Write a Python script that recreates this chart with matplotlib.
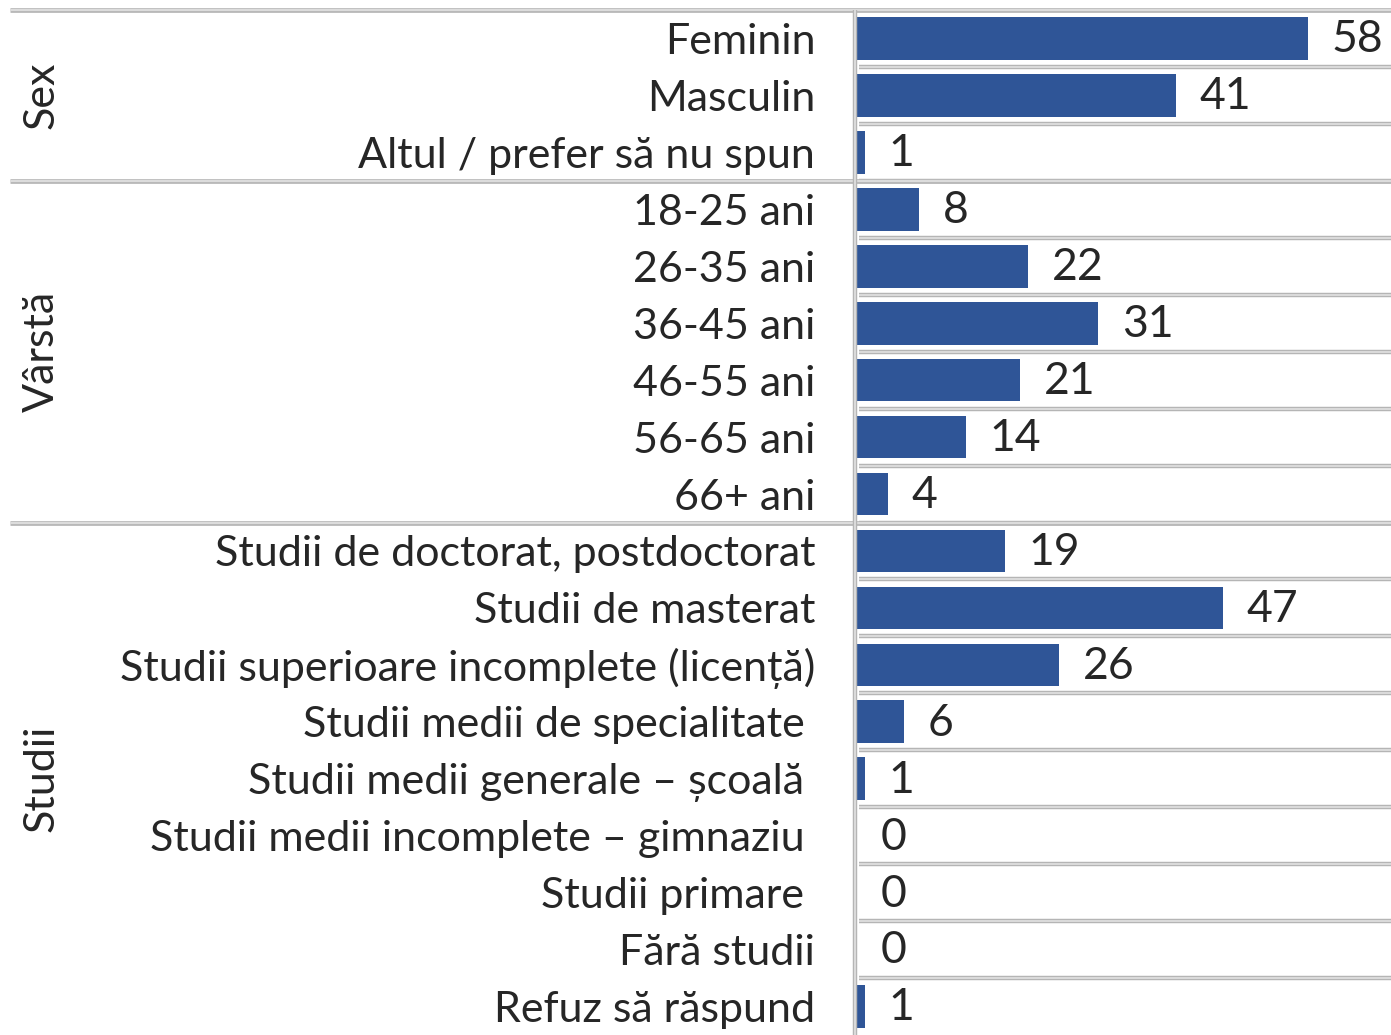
import matplotlib.pyplot as plt

plt.rcParams['font.family'] = ['Lato', 'DejaVu Sans']

# groups and categories
groups = ['Sex', 'Vârstă', 'Studii']
sex_labels = ['Feminin', 'Masculin', 'Altul / prefer să nu spun']
sex_values = [58, 41, 1]
age_labels = ['18-25 ani', '26-35 ani', '36-45 ani', '46-55 ani', '56-65 ani', '66+ ani']
age_values = [8, 22, 31, 21, 14, 4]
edu_labels = ['Studii de doctorat, postdoctorat', 'Studii de masterat',
              'Studii superioare incomplete (licență)', 'Studii medii de specialitate ',
              'Studii medii generale – școală ', 'Studii medii incomplete – gimnaziu ',
              'Studii primare ', 'Fără studii', 'Refuz să răspund']
edu_values = [19, 47, 26, 6, 1, 0, 0, 0, 1]

labels = sex_labels + age_labels + edu_labels
values = sex_values + age_values + edu_values
group_sizes = [len(sex_labels), len(age_labels), len(edu_labels)]

W, H = 1391, 1035
fig = plt.figure(figsize=(W / 100, H / 100), dpi=100)
ax = fig.add_axes([857 / W, 0, 1 - 857 / W, (H - 10) / H])

n = len(labels)
ypos = list(range(n))
ax.barh(ypos, values, height=0.75, color='#2f5597', linewidth=0)
ax.set_xlim(0, 534 / 7.78)
ax.set_ylim(n - 0.5, -0.5)

for y, v in zip(ypos, values):
    ax.annotate(str(v), (v, y), xytext=(17, -1), textcoords='offset points',
                va='center', ha='left', fontsize=32, color='#262626')

ax.set_yticks(ypos)
ax.set_yticklabels(labels, fontsize=31, color='#262626')
ax.tick_params(axis='y', length=0, pad=30)
ax.set_xticks([])
for s in ax.spines.values():
    s.set_visible(False)

tr = ax.get_yaxis_transform()
line_kw = dict(transform=tr, clip_on=False, solid_capstyle='butt')

# row separators in the bar column
for b in range(1, n):
    ax.plot([0.003, 1], [b - 0.5, b - 0.5], color='#b5b5b5', lw=3.2, **line_kw)
    ax.plot([0.003, 1], [b - 0.5, b - 0.5], color='#dcdcdc', lw=1.4, **line_kw)

# group separators across the whole width
left = (10 - 857) / 534
start = 0
bounds = [-0.5]
for g in group_sizes:
    start += g
    bounds.append(start - 0.5)
for b in bounds[:-1]:
    ax.plot([left, 1], [b, b], color='#b5b5b5', lw=3.4, **line_kw)
    ax.plot([left, 1], [b, b], color='#dcdcdc', lw=1.6, **line_kw)

# vertical separator
ax.plot([-0.004, -0.004], [-0.5, n - 0.5], color='#b5b5b5', lw=3.2, **line_kw)
ax.plot([-0.004, -0.004], [-0.5, n - 0.5], color='#dcdcdc', lw=1.4, **line_kw)

# group labels
for name, lo, hi in zip(groups, bounds[:-1], bounds[1:]):
    ax.text(left + 32 / 534, (lo + hi) / 2, name, transform=tr, rotation=90,
            ha='center', va='center', fontsize=31, color='#262626')

fig.savefig('out.png', dpi=100)
